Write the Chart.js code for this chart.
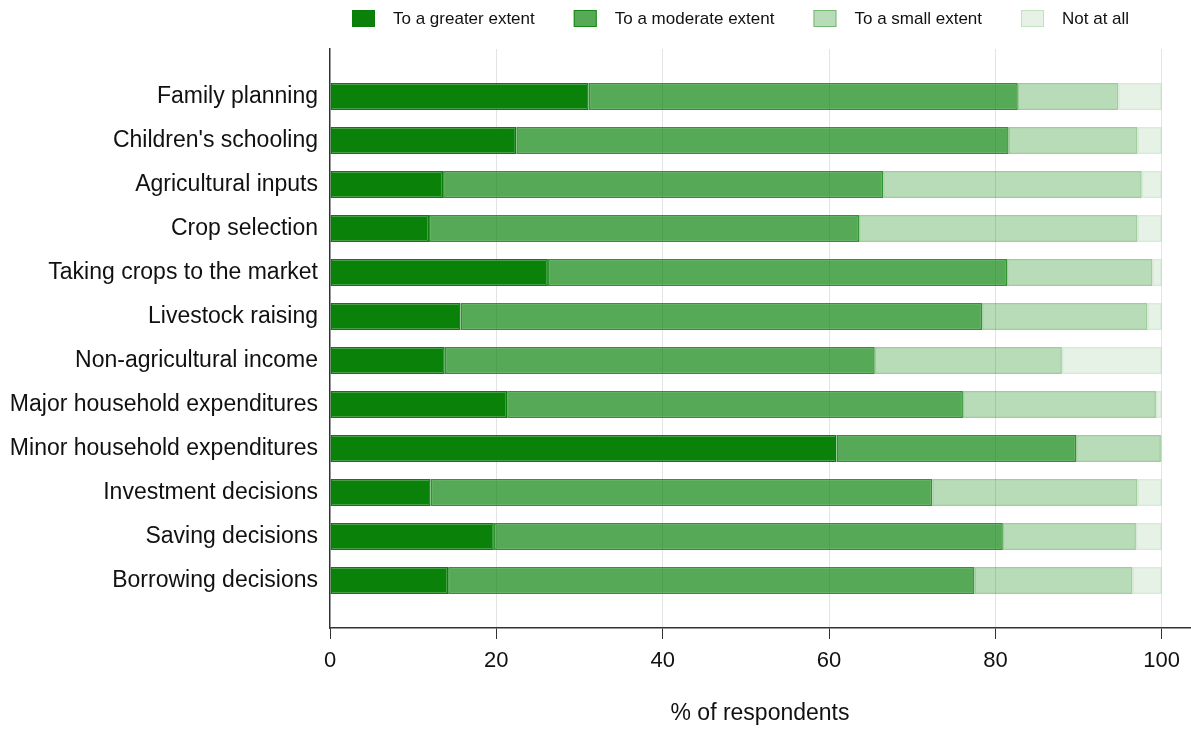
<!DOCTYPE html>
<html>
<head>
<meta charset="utf-8">
<script src="https://cdn.jsdelivr.net/npm/chart.js@4.4.1/dist/chart.umd.min.js"></script>
<style>
  html, body { margin: 0; padding: 0; background: #fff; }
  #wrap { width: 1191px; height: 730px; }
</style>
</head>
<body>
<div id="wrap"><canvas id="chartDecisions" width="1191" height="730"></canvas></div>
<script>
//Data
const categories = [
  'Family planning',
  "Children's schooling",
  'Agricultural inputs',
  'Crop selection',
  'Taking crops to the market',
  'Livestock raising',
  'Non-agricultural income',
  'Major household expenditures',
  'Minor household expenditures',
  'Investment decisions',
  'Saving decisions',
  'Borrowing decisions'
];
const series_names = ['To a greater extent', 'To a moderate extent', 'To a small extent', 'Not at all'];
const greater_extent  = [31.1, 22.4, 13.6, 11.9, 26.2, 15.7, 13.8, 21.3, 60.9, 12.1, 19.7, 14.2];
const moderate_extent = [51.6, 59.2, 52.9, 51.7, 55.2, 62.7, 51.7, 54.8, 28.8, 60.3, 61.2, 63.3];
const small_extent    = [12.1, 15.5, 31.1, 33.5, 17.5, 19.9, 22.5, 23.2, 10.2, 24.7, 16.0, 19.0];
const not_at_all      = [5.2, 2.9, 2.4, 2.9, 1.1, 1.7, 12.0, 0.7, 0.1, 2.9, 3.1, 3.5];
const x_ticks = [0, 20, 40, 60, 80, 100];

const fontFamily = "'Liberation Sans', Arial, Helvetica, sans-serif";

//Build {x, y} points so the category axis can be a linear one with padding on both ends
function toPoints(values) {
  return values.map((v, i) => ({ x: v, y: i }));
}

const fills = ['rgb(10,130,10)', 'rgba(10,130,10,0.69)', 'rgba(10,130,10,0.29)', 'rgba(10,130,10,0.10)'];
const borders = ['rgb(10,125,10)', 'rgba(10,130,10,0.85)', 'rgba(10,130,10,0.40)', 'rgba(10,130,10,0.16)'];
const allSeries = [greater_extent, moderate_extent, small_extent, not_at_all];

const datasets = allSeries.map((vals, k) => ({
  label: series_names[k],
  data: toPoints(vals),
  backgroundColor: fills[k],
  borderColor: borders[k],
  borderWidth: 1.5,
  borderSkipped: false,
  barPercentage: 0.615,
  categoryPercentage: 1.0
}));

//Legend drawn by hand so the spacing follows the reference
const legendPlugin = {
  id: 'topLegend',
  afterDraw(chart) {
    const ctx = chart.ctx;
    ctx.save();
    ctx.font = '17px ' + fontFamily;
    ctx.textBaseline = 'middle';
    ctx.textAlign = 'left';
    let x = 352;
    const boxY = 10, boxW = 23, boxH = 17;
    chart.data.datasets.forEach(ds => {
      ctx.fillStyle = '#fff';
      ctx.fillRect(x, boxY, boxW, boxH);
      ctx.fillStyle = ds.backgroundColor;
      ctx.fillRect(x, boxY, boxW, boxH);
      ctx.strokeStyle = ds.borderColor;
      ctx.lineWidth = 1;
      ctx.strokeRect(x + 0.5, boxY + 0.5, boxW - 1, boxH - 1);
      ctx.fillStyle = '#111';
      ctx.fillText(ds.label, x + boxW + 18, boxY + boxH / 2 + 1);
      x += boxW + 18 + ctx.measureText(ds.label).width + 39;
    });
    ctx.restore();
  }
};

const config = {
  type: 'bar',
  data: { datasets: datasets },
  options: {
    indexAxis: 'y',
    responsive: false,
    animation: false,
    devicePixelRatio: 1,
    layout: { padding: { top: 49, right: 1, left: 0, bottom: 0 } },
    plugins: {
      legend: { display: false },
      tooltip: { enabled: false }
    },
    scales: {
      x: {
        type: 'linear',
        stacked: true,
        min: 0,
        max: 103.4,
        afterBuildTicks: s => { s.ticks = x_ticks.map(v => ({ value: v })); },
        afterFit: s => { s.height = 102; },
        grid: {
          color: ctx => ctx.tick && ctx.tick.value === 0 ? 'rgba(0,0,0,0)' : '#e3e3e3',
          lineWidth: 1,
          drawTicks: true,
          tickLength: 11,
          tickColor: '#333'
        },
        border: { display: true, color: '#333', width: 1.5 },
        ticks: {
          padding: 9,
          color: '#111',
          font: { family: fontFamily, size: 22 }
        },
        title: {
          display: true,
          text: '% of respondents',
          color: '#111',
          font: { family: fontFamily, size: 23 },
          padding: { top: 0, bottom: 3 }
        }
      },
      y: {
        type: 'linear',
        stacked: true,
        reverse: true,
        offset: false,
        min: -1.08,
        max: 12.08,
        afterBuildTicks: s => { s.ticks = categories.map((c, i) => ({ value: i })); },
        afterFit: s => { s.width = 330; },
        grid: { display: false, drawTicks: false, offset: false },
        border: { display: true, color: '#333', width: 1.5 },
        ticks: {
          autoSkip: false,
          padding: 12,
          color: '#111',
          font: { family: fontFamily, size: 23 },
          callback: v => categories[v] !== undefined ? categories[v] : ''
        }
      }
    }
  },
  plugins: [legendPlugin]
};

const chartDecisions = new Chart(document.getElementById('chartDecisions'), config);
</script>
</body>
</html>
